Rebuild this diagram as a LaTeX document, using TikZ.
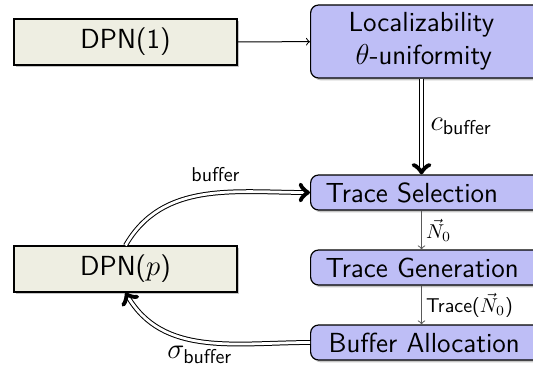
\documentclass[tikz,border=0pt]{standalone}
\usetikzlibrary{shadows}
\definecolor{inputfill}{RGB}{238,238,226}
\definecolor{stagefill}{RGB}{190,190,246}
\tikzset{
  basebox/.style={draw=black, line width=0.6pt, inner sep=0pt,
    font=\sffamily\fontsize{13.8}{16.5}\selectfont,
    drop shadow={shadow xshift=1.2pt, shadow yshift=-1.2pt, fill=black!45}},
  inbox/.style={basebox, fill=inputfill, minimum width=111.5pt, minimum height=23pt},
  stagebox/.style={basebox, rounded corners=4pt, fill=stagefill, minimum width=130pt,
    text width=130pt, align=left, anchor=west},
  flow/.style={->, draw=black!65, line width=0.5pt},
  dflow/.style={->, double, double distance=1.4pt, line width=0.5pt},
  biglbl/.style={font=\fontsize{13.8}{16.5}\selectfont},
  smalllbl/.style={font=\sffamily\fontsize{10}{12}\selectfont}
}
\begin{document}
\begin{tikzpicture}[x=0.5pt, y=-0.5pt]
  \useasboundingbox (0,0) rectangle (533,374);
  \begin{scope}
  \clip (0,0) rectangle (533,374);

  % inputs
  \node[inbox] (dpn1) at (125.5,42) {DPN(1)};
  \node[inbox] (dpnp) at (125.5,269) {DPN($p$)};

  % analysis stages: anchored at their west side, right ends run past the page edge
  \node[stagebox, minimum height=36.5pt] (loc) at (310,41.5)
    {\hspace*{19pt}Localizability\\\hspace*{22.5pt}$\theta$-uniformity};
  \node[stagebox, minimum height=17.5pt] (sel) at (310,192.5)
    {\hspace*{7.5pt}Trace Selection};
  \node[stagebox, minimum height=17.5pt] (gen) at (310,267.5)
    {\hspace*{7.5pt}Trace Generation};
  \node[stagebox, minimum height=17.5pt] (buf) at (310,342.5)
    {\hspace*{9pt}Buffer Allocation};
  \end{scope}

  % the stage column runs 55.75pt right of each stage's west side
  \coordinate (locS) at ([xshift=55.75pt]loc.south west);
  \coordinate (selN) at ([xshift=55.75pt]sel.north west);
  \coordinate (selS) at ([xshift=55.75pt]sel.south west);
  \coordinate (genN) at ([xshift=55.75pt]gen.north west);
  \coordinate (genS) at ([xshift=55.75pt]gen.south west);
  \coordinate (bufN) at ([xshift=55.75pt]buf.north west);

  % connectors
  \draw[->, line width=0.5pt] (dpn1) -- (loc);
  \draw[dflow] (locS) -- node[right, biglbl, xshift=1pt] {$c_{\mathsf{buffer}}$} (selN);
  \draw[flow] (selS) -- node[right, smalllbl, inner sep=2pt] {$\vec{N}_0$} (genN);
  \draw[flow] (genS) -- node[right, smalllbl, inner sep=2pt] {Trace($\vec{N}_0$)} (bufN);
  \draw[dflow] (dpnp.north) to[out=60, in=180]
    node[pos=0.56, above, smalllbl, yshift=2pt] {buffer} (sel.west);
  \draw[dflow] (buf.west) to[out=180, in=-60]
    node[pos=0.52, below, biglbl, yshift=1pt] {$\sigma_{\mathsf{buffer}}$} (dpnp.south);
\end{tikzpicture}
\end{document}
